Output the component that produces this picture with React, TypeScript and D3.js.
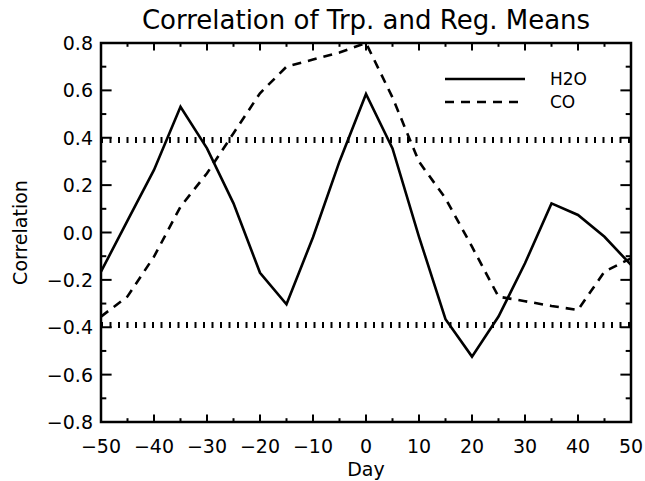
import React from "react";
import * as d3 from "d3";

const days = [-50, -45, -40, -35, -30, -25, -20, -15, -10, -5, 0, 5, 10, 15, 20, 25, 30, 35, 40, 45, 50];
const h2o = [-0.165, 0.05, 0.264, 0.531, 0.355, 0.123, -0.17, -0.303, -0.02, 0.3, 0.585, 0.355, -0.018, -0.366, -0.524, -0.355, -0.13, 0.123, 0.074, -0.018, -0.137];
const co = [-0.355, -0.27, -0.102, 0.109, 0.25, 0.419, 0.588, 0.7, 0.73, 0.76, 0.8, 0.57, 0.299, 0.144, -0.06, -0.271, -0.29, -0.31, -0.327, -0.165, -0.109];
const sigLevels = [0.39, -0.39];
const xTicks = [-50, -40, -30, -20, -10, 0, 10, 20, 30, 40, 50];
const yTicks = [-0.8, -0.6, -0.4, -0.2, 0.0, 0.2, 0.4, 0.6, 0.8];
const legendItems = ["H2O", "CO"];

const W = 645;
const H = 481;
const L = 101, R = 631, T = 43, B = 422;

export default function App() {
  const x = d3.scaleLinear().domain([-50, 50]).range([L, R]);
  const y = d3.scaleLinear().domain([-0.8, 0.8]).range([B, T]);
  const line = d3
    .line<number>()
    .x((_, i) => x(days[i]))
    .y((d) => y(d));
  const font = "'DejaVu Sans', sans-serif";
  const xMinor = d3.range(-45, 50, 10);
  const yMinor = d3.range(-7, 8, 2).map((v) => v / 10);
  const fmt = (v: number) => (v < 0 ? "\u2212" : "") + Math.abs(v).toFixed(1);
  const xFmt = (v: number) => (v < 0 ? "\u2212" : "") + Math.abs(v);
  const majX = 7.6, minX = 3.8, majY = 10.6, minY = 5.3;
  return (
    <svg width={W} height={H} style={{ position: "absolute", left: 0, top: 0, background: "#fff" }} fontFamily={font}>
      <rect x={0} y={0} width={W} height={H} fill="#fff" />
      <text x={(L + R) / 2} y={29} fontSize={26} textAnchor="middle">
        Correlation of Trp. and Reg. Means
      </text>
      {/* significance dotted lines */}
      {sigLevels.map((s) => (
        <line key={s} x1={L} x2={R} y1={y(s)} y2={y(s)} stroke="#000" strokeWidth={6} strokeDasharray="2 6.5" />
      ))}
      {/* data */}
      <path d={line(h2o) ?? ""} fill="none" stroke="#000" strokeWidth={2.6} strokeLinejoin="miter" />
      <path d={line(co) ?? ""} fill="none" stroke="#000" strokeWidth={2.6} strokeDasharray="9 7" />
      {/* frame */}
      <rect x={L} y={T} width={R - L} height={B - T} fill="none" stroke="#000" strokeWidth={2.5} />
      {/* x ticks */}
      {xTicks.map((t) => (
        <g key={"xt" + t}>
          <line x1={x(t)} x2={x(t)} y1={B} y2={B - majX} stroke="#000" strokeWidth={2} />
          <line x1={x(t)} x2={x(t)} y1={T} y2={T + majX} stroke="#000" strokeWidth={2} />
          <text x={x(t)} y={453} fontSize={19} textAnchor="middle">
            {xFmt(t)}
          </text>
        </g>
      ))}
      {xMinor.map((t) => (
        <g key={"xm" + t}>
          <line x1={x(t)} x2={x(t)} y1={B} y2={B - minX} stroke="#000" strokeWidth={2} />
          <line x1={x(t)} x2={x(t)} y1={T} y2={T + minX} stroke="#000" strokeWidth={2} />
        </g>
      ))}
      {/* y ticks */}
      {yTicks.map((t) => (
        <g key={"yt" + t}>
          <line x1={L} x2={L + majY} y1={y(t)} y2={y(t)} stroke="#000" strokeWidth={2} />
          <line x1={R} x2={R - majY} y1={y(t)} y2={y(t)} stroke="#000" strokeWidth={2} />
          <text x={93} y={y(t) + 7} fontSize={19} textAnchor="end">
            {fmt(t)}
          </text>
        </g>
      ))}
      {yMinor.map((t) => (
        <g key={"ym" + t}>
          <line x1={L} x2={L + minY} y1={y(t)} y2={y(t)} stroke="#000" strokeWidth={2} />
          <line x1={R} x2={R - minY} y1={y(t)} y2={y(t)} stroke="#000" strokeWidth={2} />
        </g>
      ))}
      <text x={(L + R) / 2} y={476} fontSize={19} textAnchor="middle">
        Day
      </text>
      <text transform={`translate(27, ${(T + B) / 2}) rotate(-90)`} fontSize={19} textAnchor="middle">
        Correlation
      </text>
      {/* legend */}
      {legendItems.map((name, i) => (
        <g key={name}>
          <line
            x1={445}
            x2={525}
            y1={79 + i * 23}
            y2={79 + i * 23}
            stroke="#000"
            strokeWidth={2.6}
            strokeDasharray={i === 0 ? undefined : "9 7"}
          />
          <text x={550} y={85 + i * 23} fontSize={17}>
            {name}
          </text>
        </g>
      ))}
    </svg>
  );
}
